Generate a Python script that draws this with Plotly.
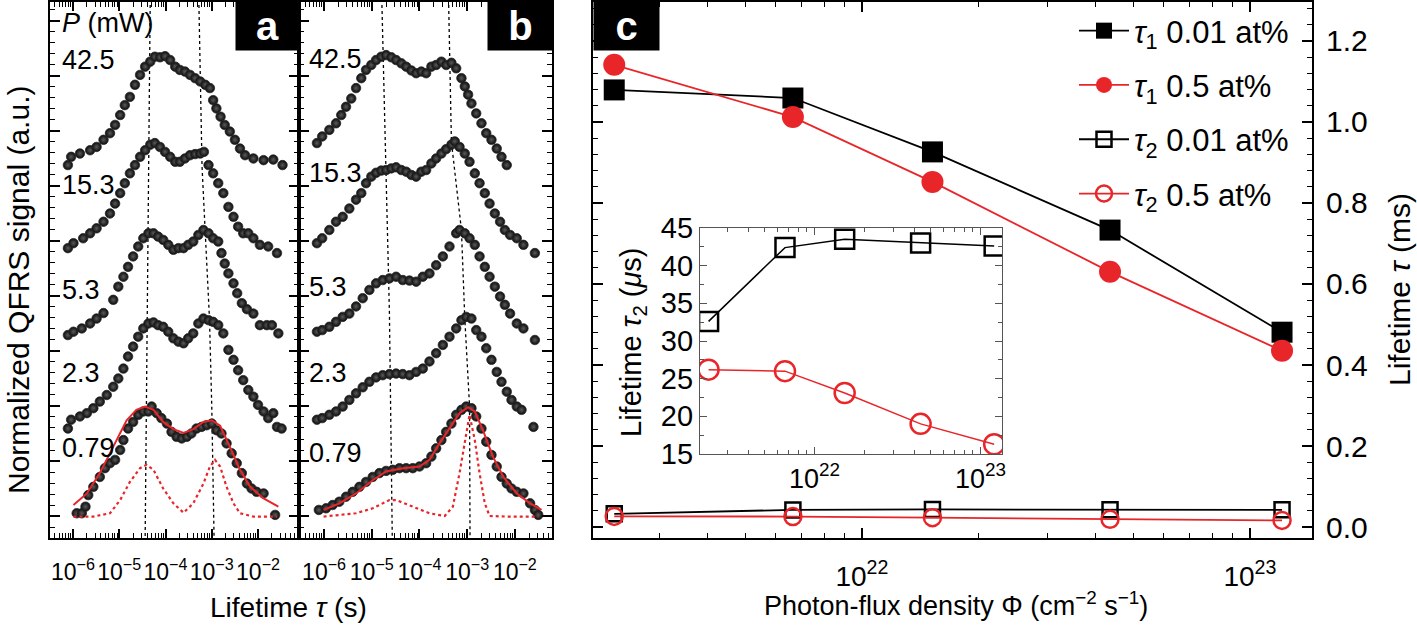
import plotly.graph_objects as go

# ---------------- Panel a data (log10 tau, offset normalized signal) ----------------
a_425_x = [-6.11,-6.04,-5.85,-5.63,-5.49,-5.34,-5.20,-5.09,-4.98,-4.88,-4.77,-4.66,-4.55,-4.44,-4.33,-4.23,-4.12,-4.01,-3.90,-3.79,-3.69,-3.58,-3.47,-3.36,-3.25,-3.14,-3.04,-2.97,-2.90,-2.81,-2.72,-2.61,-2.50,-2.39,-2.28,-2.10,-1.88,-1.67,-1.47]
a_425_y = [6.38,6.53,6.59,6.65,6.71,6.84,6.96,7.11,7.29,7.47,7.62,7.84,8.02,8.17,8.26,8.35,8.34,8.36,8.29,8.17,8.11,8.08,8.02,7.96,7.90,7.84,7.78,7.56,7.41,7.26,7.11,6.99,6.84,6.68,6.56,6.50,6.47,6.48,6.38]
a_153_x = [-6.11,-5.99,-5.78,-5.63,-5.49,-5.34,-5.20,-5.09,-4.98,-4.88,-4.77,-4.66,-4.55,-4.44,-4.33,-4.23,-4.12,-4.01,-3.90,-3.79,-3.69,-3.58,-3.47,-3.36,-3.25,-3.17,-3.07,-2.97,-2.86,-2.75,-2.64,-2.53,-2.43,-2.32,-2.21,-2.10,-1.96,-1.78,-1.59]
a_153_y = [4.87,4.96,5.05,5.14,5.23,5.35,5.50,5.68,5.87,6.05,6.23,6.38,6.53,6.65,6.75,6.78,6.71,6.62,6.53,6.44,6.44,6.50,6.56,6.58,6.59,6.62,6.38,6.23,6.05,5.87,5.62,5.44,5.26,5.14,5.14,5.05,4.93,4.90,4.78]
a_53_x = [-6.11,-5.99,-5.81,-5.63,-5.49,-5.34,-5.13,-5.02,-4.91,-4.81,-4.70,-4.59,-4.48,-4.37,-4.26,-4.16,-4.05,-3.94,-3.83,-3.72,-3.61,-3.51,-3.40,-3.29,-3.18,-3.07,-2.97,-2.86,-2.79,-2.72,-2.64,-2.53,-2.45,-2.35,-2.24,-2.10,-1.96,-1.81,-1.70,-1.56]
a_53_y = [3.29,3.35,3.41,3.50,3.59,3.69,3.93,4.17,4.35,4.53,4.72,4.90,5.05,5.14,5.14,5.08,5.02,4.93,4.84,4.87,4.87,4.93,4.99,5.11,5.20,5.14,5.05,4.99,4.78,4.59,4.41,4.23,4.05,3.87,3.76,3.68,3.47,3.47,3.47,3.32]
a_23_x = [-6.11,-6.04,-5.85,-5.70,-5.56,-5.42,-5.27,-5.13,-5.02,-4.91,-4.81,-4.70,-4.59,-4.48,-4.37,-4.26,-4.16,-4.05,-3.94,-3.83,-3.72,-3.61,-3.51,-3.40,-3.29,-3.18,-3.07,-2.97,-2.86,-2.75,-2.64,-2.53,-2.43,-2.32,-2.21,-2.10,-2.00,-1.88,-1.78,-1.67,-1.59,-1.49]
a_23_y = [1.59,1.75,1.81,1.87,1.96,2.08,2.20,2.35,2.50,2.68,2.90,3.08,3.26,3.41,3.50,3.52,3.47,3.44,3.35,3.23,3.17,3.14,3.23,3.32,3.50,3.59,3.56,3.53,3.47,3.32,3.02,2.84,2.65,2.47,2.29,2.17,2.02,1.90,1.78,1.87,1.62,1.59]
a_079_x = [-5.92,-5.81,-5.73,-5.67,-5.56,-5.42,-5.31,-5.20,-5.09,-4.98,-4.91,-4.81,-4.70,-4.59,-4.48,-4.37,-4.30,-4.19,-4.09,-3.97,-3.87,-3.76,-3.65,-3.54,-3.44,-3.33,-3.22,-3.11,-3.00,-2.90,-2.79,-2.68,-2.57,-2.46,-2.35,-2.24,-2.14,-2.03,-1.88,-1.63]
a_079_y = [0.05,0.05,0.17,0.38,0.53,0.71,0.87,0.96,1.02,1.20,1.38,1.59,1.71,1.84,1.90,1.90,1.99,1.87,1.78,1.68,1.53,1.44,1.41,1.44,1.50,1.59,1.62,1.65,1.68,1.56,1.50,1.32,1.14,0.96,0.78,0.59,0.50,0.44,0.41,0.02]
a_fit_x = [-5.99,-5.70,-5.42,-5.13,-4.84,-4.63,-4.44,-4.26,-4.05,-3.83,-3.61,-3.40,-3.18,-3.00,-2.82,-2.61,-2.39,-2.17,-1.88,-1.56]
a_fit_y = [0.20,0.41,0.78,1.26,1.74,1.93,1.99,1.93,1.71,1.58,1.51,1.58,1.71,1.74,1.64,1.26,0.84,0.53,0.32,0.17]
a_comp_x = [-5.99,-5.56,-5.20,-4.98,-4.77,-4.55,-4.41,-4.26,-4.05,-3.83,-3.61,-3.40,-3.18,-3.04,-2.93,-2.82,-2.68,-2.53,-2.39,-2.10,-1.59]
a_comp_y = [-0.01,-0.01,0.05,0.29,0.62,0.87,0.93,0.84,0.50,0.23,0.06,0.23,0.59,0.90,1.02,0.90,0.53,0.23,0.05,-0.01,-0.01]
a_guide1_x = [-4.33,-4.40,-4.44]
a_guide1_y = [9.4,3.5,-0.4]
a_guide2_x = [-3.28,-3.21,-3.14,-3.05,-3.00,-2.95]
a_guide2_y = [9.4,6.35,5.14,3.6,2.0,-0.4]

# ---------------- Panel b data ----------------
b_425_x = [-6.15,-6.04,-5.89,-5.75,-5.64,-5.54,-5.43,-5.33,-5.22,-5.12,-5.01,-4.91,-4.80,-4.70,-4.59,-4.49,-4.38,-4.28,-4.17,-4.07,-3.96,-3.86,-3.75,-3.65,-3.54,-3.44,-3.33,-3.23,-3.12,-3.05,-2.98,-2.91,-2.81,-2.70,-2.60,-2.49,-2.38,-2.28,-2.17]
b_425_y = [6.78,6.90,7.02,7.14,7.29,7.44,7.59,7.78,7.96,8.11,8.20,8.29,8.35,8.38,8.34,8.29,8.23,8.17,8.10,8.05,8.08,8.05,8.17,8.20,8.26,8.20,8.24,8.14,7.96,7.81,7.66,7.50,7.32,7.14,6.96,6.84,6.68,6.53,6.38]
b_153_x = [-6.15,-6.04,-5.89,-5.75,-5.61,-5.47,-5.33,-5.22,-5.12,-5.01,-4.91,-4.80,-4.70,-4.59,-4.49,-4.38,-4.28,-4.17,-4.07,-3.96,-3.86,-3.75,-3.65,-3.54,-3.44,-3.33,-3.26,-3.16,-3.05,-2.95,-2.84,-2.74,-2.63,-2.53,-2.42,-2.31,-2.21,-2.10,-1.96,-1.82,-1.58]
b_153_y = [4.96,5.05,5.20,5.35,5.44,5.59,5.75,5.87,6.05,6.17,6.24,6.28,6.29,6.32,6.34,6.29,6.26,6.20,6.17,6.26,6.29,6.41,6.50,6.59,6.67,6.75,6.81,6.71,6.59,6.44,6.23,6.05,5.87,5.68,5.50,5.35,5.20,5.11,5.05,4.93,4.78]
b_53_x = [-6.15,-6.04,-5.89,-5.75,-5.61,-5.47,-5.33,-5.19,-5.05,-4.91,-4.77,-4.63,-4.49,-4.35,-4.21,-4.07,-3.93,-3.79,-3.65,-3.51,-3.37,-3.23,-3.16,-3.05,-2.95,-2.84,-2.74,-2.63,-2.53,-2.42,-2.31,-2.21,-2.10,-1.96,-1.82,-1.58]
b_53_y = [3.35,3.38,3.44,3.53,3.62,3.68,3.81,3.96,4.11,4.23,4.29,4.32,4.35,4.29,4.28,4.26,4.35,4.41,4.56,4.72,4.90,5.14,5.20,5.14,5.05,4.93,4.72,4.53,4.35,4.17,3.99,3.84,3.68,3.50,3.41,3.20]
b_23_x = [-6.15,-6.04,-5.89,-5.75,-5.61,-5.47,-5.33,-5.19,-5.05,-4.91,-4.77,-4.63,-4.49,-4.35,-4.21,-4.07,-3.93,-3.79,-3.65,-3.51,-3.37,-3.23,-3.12,-3.02,-2.91,-2.81,-2.70,-2.60,-2.49,-2.38,-2.28,-2.17,-2.07,-1.96,-1.86,-1.61]
b_23_y = [1.75,1.78,1.84,1.90,1.99,2.11,2.23,2.34,2.44,2.52,2.56,2.58,2.59,2.58,2.56,2.62,2.68,2.81,2.96,3.11,3.26,3.41,3.56,3.62,3.59,3.38,3.26,3.05,2.84,2.62,2.44,2.26,2.11,1.99,1.93,1.62]
b_079_x = [-6.11,-5.96,-5.82,-5.68,-5.54,-5.40,-5.26,-5.12,-4.98,-4.84,-4.70,-4.56,-4.42,-4.28,-4.14,-4.00,-3.86,-3.75,-3.65,-3.54,-3.44,-3.33,-3.23,-3.12,-3.02,-2.91,-2.81,-2.70,-2.60,-2.49,-2.38,-2.28,-2.17,-2.07,-1.96,-1.82,-1.68,-1.58,-1.51]
b_079_y = [0.11,0.14,0.20,0.26,0.35,0.44,0.53,0.62,0.71,0.78,0.82,0.84,0.87,0.87,0.87,0.90,0.96,1.08,1.23,1.38,1.53,1.68,1.84,1.93,1.99,1.96,1.81,1.59,1.35,1.11,0.90,0.71,0.59,0.50,0.44,0.41,0.23,0.11,0.02]
b_fit_x = [-6.01,-5.68,-5.33,-4.98,-4.70,-4.35,-4.00,-3.79,-3.58,-3.37,-3.16,-2.98,-2.84,-2.67,-2.46,-2.24,-1.96,-1.68,-1.44]
b_fit_y = [0.11,0.23,0.41,0.65,0.81,0.87,0.90,1.02,1.32,1.59,1.87,1.98,1.90,1.56,1.08,0.71,0.41,0.23,0.11]
b_comp_x = [-6.01,-5.33,-4.98,-4.63,-4.49,-4.14,-3.79,-3.47,-3.30,-3.16,-3.05,-2.95,-2.84,-2.74,-2.63,-2.53,-2.17,-1.51]
b_comp_y = [-0.01,0.05,0.14,0.29,0.29,0.17,0.05,0.00,0.17,0.78,1.38,1.84,1.38,0.78,0.23,0.00,-0.01,-0.01]
b_guide1_x = [-4.79,-4.70,-4.63,-4.57]
b_guide1_y = [9.4,6.3,3.7,-0.4]
b_guide2_x = [-3.39,-3.33,-3.12,-3.05,-2.95,-2.94]
b_guide2_y = [9.4,6.8,5.2,3.6,2.0,-0.4]

power_labels = ["42.5", "15.3", "5.3", "2.3", "0.79"]
a_label_y = [8.29, 6.02, 4.11, 2.60, 1.24]
b_label_y = [8.31, 6.24, 4.16, 2.60, 1.15]

# ---------------- Panel c data ----------------
phi = [2.30e21, 6.64e21, 1.52e22, 4.36e22, 1.21e23]
tau1_001 = [1.079, 1.059, 0.926, 0.733, 0.481]   # ms
tau1_05 = [1.141, 1.012, 0.852, 0.630, 0.435]    # ms
tau2_001_us = [32.6, 42.4, 43.5, 43.0, 42.6]     # us
tau2_05_us = [26.2, 26.0, 23.1, 19.0, 16.3]      # us

decade_ticks = [1e-6, 1e-5, 1e-4, 1e-3, 1e-2]
decade_text = ["10<sup>\u22126</sup>", "10<sup>\u22125</sup>", "10<sup>\u22124</sup>", "10<sup>\u22123</sup>", "10<sup>\u22122</sup>"]

W, H = 1417, 626
FONT = "Liberation Sans, Arial, Helvetica, sans-serif"
RED = "#e8262a"

def px(x):
    return x / W

def py(y):
    return 1 - y / H

def tau(v):
    return [10 ** e for e in v]

fig = go.Figure()

def dots(xs, ys, xa, ya):
    fig.add_trace(go.Scatter(x=tau(xs), y=ys, mode="markers", xaxis=xa, yaxis=ya, showlegend=False,
                             marker=dict(size=9.5, color="#0a0a0a", line=dict(width=0.8, color="#2a2a2a"),
                                         gradient=dict(type="radial", color="#5a5a5a"))))

def line(xs, ys, xa, ya, color, width, dash):
    fig.add_trace(go.Scatter(x=tau(xs), y=ys, mode="lines", xaxis=xa, yaxis=ya, showlegend=False,
                             line=dict(color=color, width=width, dash=dash)))

# panel a
line(a_guide1_x, a_guide1_y, "x", "y", "black", 1.3, "dot")
line(a_guide2_x, a_guide2_y, "x", "y", "black", 1.3, "dot")
for xs, ys in [(a_425_x, a_425_y), (a_153_x, a_153_y), (a_53_x, a_53_y), (a_23_x, a_23_y), (a_079_x, a_079_y)]:
    dots(xs, ys, "x", "y")
line(a_comp_x, a_comp_y, "x", "y", RED, 2.2, "dot")
line(a_fit_x, a_fit_y, "x", "y", RED, 2.0, "solid")

# panel b
line(b_guide1_x, b_guide1_y, "x2", "y2", "black", 1.3, "dot")
line(b_guide2_x, b_guide2_y, "x2", "y2", "black", 1.3, "dot")
for xs, ys in [(b_425_x, b_425_y), (b_153_x, b_153_y), (b_53_x, b_53_y), (b_23_x, b_23_y), (b_079_x, b_079_y)]:
    dots(xs, ys, "x2", "y2")
line(b_comp_x, b_comp_y, "x2", "y2", RED, 2.2, "dot")
line(b_fit_x, b_fit_y, "x2", "y2", RED, 2.0, "solid")

# panel c main
sub1 = "<i>\u03c4</i><sub>1</sub>"
sub2 = "<i>\u03c4</i><sub>2</sub>"
fig.add_trace(go.Scatter(x=phi, y=tau1_001, mode="lines+markers", xaxis="x3", yaxis="y3", legendgroup="g1",
                         name=sub1 + " 0.01 at%", line=dict(color="black", width=1.8),
                         marker=dict(symbol="square", size=21, color="black")))
fig.add_trace(go.Scatter(x=phi, y=tau1_05, mode="lines+markers", xaxis="x3", yaxis="y3", legendgroup="g2",
                         name=sub1 + " 0.5 at%", line=dict(color=RED, width=1.8),
                         marker=dict(symbol="circle", size=22, color=RED)))
fig.add_trace(go.Scatter(x=phi, y=[v / 1000 for v in tau2_001_us], mode="lines+markers", xaxis="x3", yaxis="y3",
                         legendgroup="g3", name=sub2 + " 0.01 at%", line=dict(color="black", width=1.8),
                         marker=dict(symbol="square-open", size=15, color="black", line=dict(width=2.5))))
fig.add_trace(go.Scatter(x=phi, y=[v / 1000 for v in tau2_05_us], mode="lines+markers", xaxis="x3", yaxis="y3",
                         legendgroup="g4", name=sub2 + " 0.5 at%", line=dict(color=RED, width=1.8),
                         marker=dict(symbol="circle-open", size=17, color=RED, line=dict(width=2.5))))
# inset
fig.add_trace(go.Scatter(x=phi, y=tau2_001_us, mode="lines+markers", xaxis="x4", yaxis="y4", showlegend=False,
                         line=dict(color="black", width=1.5),
                         marker=dict(symbol="square-open", size=19, color="black", line=dict(width=2.5))))
fig.add_trace(go.Scatter(x=phi, y=tau2_05_us, mode="lines+markers", xaxis="x4", yaxis="y4", showlegend=False,
                         line=dict(color=RED, width=1.5),
                         marker=dict(symbol="circle-open", size=20, color=RED, line=dict(width=2.5))))

ax_common = dict(showline=True, linecolor="black", linewidth=2, mirror="ticks", ticks="inside",
                 tickcolor="black", tickwidth=1.5, showgrid=False, zeroline=False, automargin=False)
minor_log = dict(ticks="inside", ticklen=5, dtick="D1", tickcolor="black", tickwidth=1.2, showgrid=False)
ab_x = dict(type="log", tickvals=decade_ticks, ticktext=decade_text, ticklen=9, tickangle=0,
            ticklabelstandoff=12,
            tickfont=dict(size=23, color="black", family=FONT), minor=minor_log, **ax_common)
ab_y = dict(range=[-0.4, 9.345], tick0=0, dtick=1, ticklen=10, showticklabels=False,
            minor=dict(ticks="inside", ticklen=5, dtick=0.2, tick0=0, tickcolor="black", tickwidth=1.2, showgrid=False),
            **ax_common)
inset_ax = dict(showline=True, linecolor="#555555", linewidth=1.2, mirror="ticks", ticks="inside",
                tickcolor="#555555", tickwidth=1, showgrid=False, zeroline=False, automargin=False)

fig.update_layout(
    template="none",
    width=W, height=H, autosize=False,
    margin=dict(l=0, r=0, t=0, b=0, pad=0),
    paper_bgcolor="white", plot_bgcolor="white",
    font=dict(family=FONT, color="black", size=26),
    xaxis=dict(domain=[px(50), px(299)], range=[-6.497, -1.114], anchor="y", **ab_x),
    yaxis=dict(domain=[py(538), py(2)], anchor="x", **ab_y),
    xaxis2=dict(domain=[px(299), px(552)], range=[-6.526, -1.221], anchor="y2", **ab_x),
    yaxis2=dict(domain=[py(538), py(2)], anchor="x2", **ab_y),
    xaxis3=dict(domain=[px(593), px(1312)], type="log", range=[21.307, 23.160], anchor="y3",
                tickvals=[1e22, 1e23], ticktext=["10<sup>22</sup>", "10<sup>23</sup>"], ticklen=10, tickangle=0,
                ticklabelstandoff=12,
                tickfont=dict(size=28, color="black", family=FONT), minor=minor_log, **ax_common),
    yaxis3=dict(domain=[py(538), py(2)], range=[-0.027, 1.296], anchor="x3", side="right",
                tickvals=[0, 0.2, 0.4, 0.6, 0.8, 1.0, 1.2], ticktext=["0.0", "0.2", "0.4", "0.6", "0.8", "1.0", "1.2"],
                ticklen=10, ticklabelstandoff=6, tickfont=dict(size=30, color="black", family=FONT),
                minor=dict(ticks="inside", ticklen=5, dtick=0.04, tick0=0, tickcolor="black", tickwidth=1.2, showgrid=False),
                **ax_common),
    xaxis4=dict(domain=[px(700), px(1002)], type="log", range=[21.31, 23.13], anchor="y4",
                tickvals=[1e22, 1e23], ticktext=["10<sup>22</sup>", "10<sup>23</sup>"], ticklen=7, tickangle=0,
                tickfont=dict(size=27, color="black", family=FONT),
                minor=dict(ticks="inside", ticklen=4, dtick="D1", tickcolor="#555555", tickwidth=1, showgrid=False),
                **inset_ax),
    yaxis4=dict(domain=[py(454), py(228)], range=[15, 45], dtick=5, tick0=15, anchor="x4", ticklen=7,
                tickfont=dict(size=29, color="black", family=FONT),
                minor=dict(ticks="inside", ticklen=4, dtick=2.5, tick0=15, tickcolor="#555555", tickwidth=1),
                **inset_ax),
    legend=dict(x=px(1074), y=py(4), xanchor="left", yanchor="top", bgcolor="rgba(0,0,0,0)", borderwidth=0,
                font=dict(size=31, color="black", family=FONT), tracegroupgap=11, itemwidth=50),
    showlegend=True,
)

# panel labels in black boxes
for x0, x1, t in [(235, 298, "a"), (487, 552, "b"), (593, 658, "c")]:
    fig.add_annotation(x=px(x0), y=1, xref="paper", yref="paper", xanchor="left", yanchor="top",
                       text="<b>%s</b>" % t, showarrow=False, bgcolor="black", borderpad=0,
                       width=x1 - x0, height=49, align="center", valign="middle",
                       font=dict(size=40, color="white", family=FONT))

# power labels
fig.add_annotation(x=-6.28, y=8.96, xref="x", yref="y", text="<i>P</i> (mW)", showarrow=False,
                   xanchor="left", yanchor="middle", font=dict(size=27))
for t, ya, yb in zip(power_labels, a_label_y, b_label_y):
    fig.add_annotation(x=-6.28, y=ya, xref="x", yref="y", text=t, showarrow=False, xanchor="left",
                       yanchor="middle", font=dict(size=27))
    fig.add_annotation(x=-6.36, y=yb, xref="x2", yref="y2", text=t, showarrow=False, xanchor="left",
                       yanchor="middle", font=dict(size=27))

# axis titles
def title(x, y, text, size, angle=0):
    fig.add_annotation(x=px(x), y=py(y), xref="paper", yref="paper", text=text, textangle=angle,
                       xanchor="center", yanchor="middle", showarrow=False, font=dict(size=size))

title(18, 290, "Normalized QFRS signal (a.u.)", 30, -90)
title(288, 607, "Lifetime <i>\u03c4</i> (s)", 28)
title(956, 604, "Photon-flux density \u03a6 (cm<sup>\u22122</sup> s<sup>\u22121</sup>)", 27)
title(1399, 290, "Lifetime <i>\u03c4</i> (ms)", 30, -90)
title(633, 342, "Lifetime <i>\u03c4</i><sub>2</sub> (<i>\u03bc</i>s)", 29, -90)

fig.write_html("out.html", config={"displayModeBar": False},
               post_script="document.body.style.margin='0px';document.body.style.overflow='hidden';")
